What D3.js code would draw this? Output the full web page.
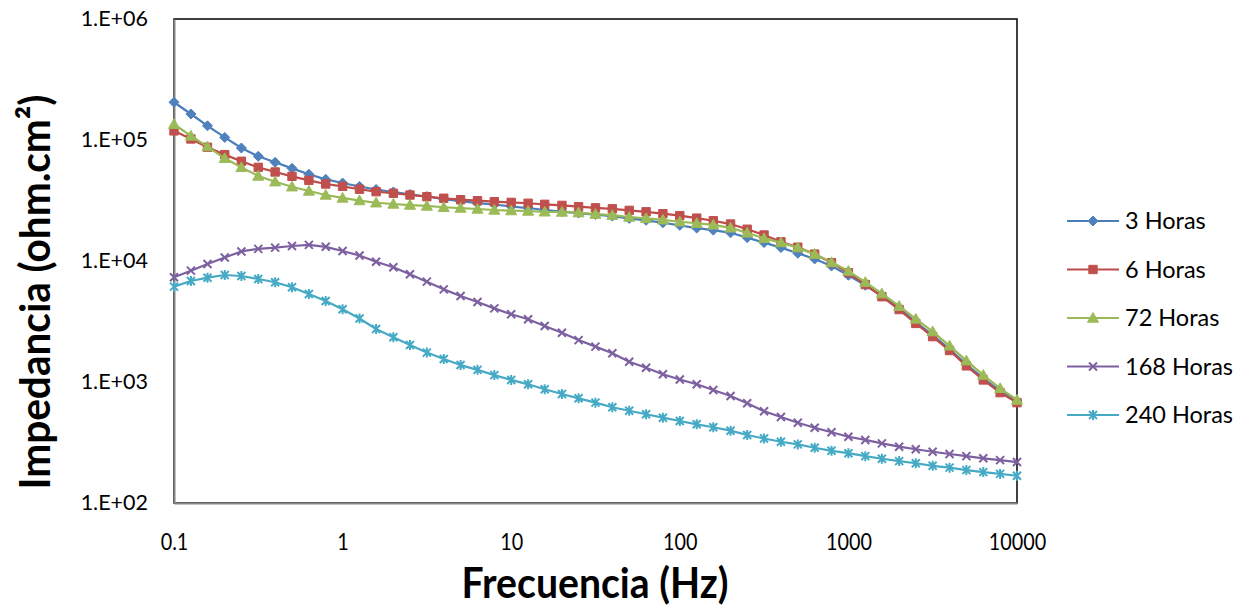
<!DOCTYPE html>
<html><head><meta charset="utf-8">
<script src="https://cdn.jsdelivr.net/npm/d3@7"></script>
<style>
body{margin:0;background:#fff}
text{font-family:Lato,"Open Sans",sans-serif;fill:#000}
</style></head><body>
<svg id="c" width="1243" height="610"></svg>
<script>
// ---- data ----
const frequencies = [0.1,0.126,0.158,0.2,0.251,0.316,0.398,0.501,0.631,0.794,
  1,1.26,1.58,2,2.51,3.16,3.98,5.01,6.31,7.94,
  10,12.6,15.8,20,25.1,31.6,39.8,50.1,63.1,79.4,
  100,126,158,200,251,316,398,501,631,794,
  1000,1260,1580,2000,2510,3160,3980,5010,6310,7940,10000];
const seriesNames = ["3 Horas","6 Horas","72 Horas","168 Horas","240 Horas"];
const horas3 = [205000,164000,131000,105000,85900,73300,65400,58300,52100,47300,
  44100,41300,39000,37200,35500,34100,32500,31300,30100,29300,
  28200,27400,26400,25600,24900,24200,23500,22500,21700,20700,
  19700,18700,18000,17100,15600,14200,12900,11600,10400,9100,
  7620,6300,5140,4090,3130,2440,1870,1400,1070,843,697];
const horas6 = [119000,102000,87100,75700,66700,59400,54400,50100,46400,43300,
  41400,39200,37400,36300,35100,34000,33000,32100,31500,30900,
  30500,30000,29400,28800,28100,27500,27000,26200,25500,24600,
  23700,22600,21500,20200,18300,16400,14400,13000,11400,9680,
  8000,6390,5070,3970,3050,2370,1820,1360,1040,817,675];
const horas72 = [135000,108000,88100,70600,59400,50400,45200,41100,37900,35100,
  33200,31600,30300,29600,29000,28500,27800,27400,26900,26400,
  26100,25900,25500,25400,25100,24400,23900,23100,22500,21900,
  21100,20500,19900,18800,17100,15400,14200,12900,11400,9750,
  8260,6680,5370,4230,3320,2610,1990,1500,1140,887,710];
const horas168 = [7330,8320,9450,10700,12000,12600,12900,13300,13600,13100,
  12100,11100,9860,8870,7760,6750,5830,5140,4580,4060,
  3630,3300,2900,2550,2220,1960,1730,1470,1310,1160,
  1050,957,859,766,667,573,514,461,419,384,
  353,332,311,292,278,265,254,244,234,226,218];
const horas240 = [6140,6840,7280,7660,7520,7100,6670,6070,5330,4670,
  3990,3350,2740,2340,2020,1750,1550,1380,1260,1140,
  1040,957,871,796,733,675,618,579,541,507,
  476,447,423,396,365,341,321,305,286,270,
  258,244,232,222,213,203,196,187,180,174,168];
const yTicks = [100,1000,10000,100000,1000000];
const yTickLabels = ["1.E+02","1.E+03","1.E+04","1.E+05","1.E+06"];
const xTicks = [0.1,1,10,100,1000,10000];
const xTickLabels = ["0.1","1","10","100","1000","10000"];

// ---- styles ----
const lineColors = ["#4A7EBB","#BE4B48","#98B954","#7D60A0","#46AAC5"];
const fillColors = ["#4F81BD","#C0504D","#9BBB59","#8064A2","#4BACC6"];
const allSeries = [horas3,horas6,horas72,horas168,horas240];

const markerTypes = [
  {draw(c){c.moveTo(0,-5);c.lineTo(5,0);c.lineTo(0,5);c.lineTo(-5,0);c.closePath();}},
  {draw(c){c.rect(-4.2,-4.2,8.4,8.4);}},
  {draw(c){c.moveTo(0,-5.5);c.lineTo(5.5,4.2);c.lineTo(-5.5,4.2);c.closePath();}},
  {draw(c){c.moveTo(-4,-4);c.lineTo(4,4);c.moveTo(-4,4);c.lineTo(4,-4);}},
  {draw(c){c.moveTo(-4,-4);c.lineTo(4,4);c.moveTo(-4,4);c.lineTo(4,-4);c.moveTo(0,-5);c.lineTo(0,5);}}
];
const strokeMarker = [false,false,false,true,true];

const svg = d3.select("#c");
const L=174,T=19,R=1017,B=503;
const x = d3.scaleLog().domain([0.1,10000]).range([L,R]);
const y = d3.scaleLog().domain([100,1000000]).range([B,T]);

// plot area border
svg.append("rect").attr("x",L).attr("y",T).attr("width",R-L).attr("height",B-T)
  .attr("fill","none").attr("stroke","#000").attr("stroke-width",1.5);

// axes
const yAxis = d3.axisLeft(y).tickValues(yTicks).tickSize(0).tickPadding(26)
  .tickFormat((d,i)=>yTickLabels[i]);
const gy = svg.append("g").attr("transform",`translate(${L},0)`).call(yAxis);
gy.select(".domain").attr("stroke","#868686").attr("stroke-width",2);
gy.selectAll("text").style("font-size","21.5px").style("font-family","Lato").attr("fill","#000");

const xAxis = d3.axisBottom(x).tickValues(xTicks).tickSize(0).tickPadding(31)
  .tickFormat((d,i)=>xTickLabels[i]);
const gx = svg.append("g").attr("transform",`translate(0,${B})`).call(xAxis);
gx.select(".domain").attr("stroke","#868686").attr("stroke-width",2);
gx.selectAll("text").style("font-size","23px").style("font-family","Lato").attr("fill","#000")
  .each(function(){
    const w = this.getComputedTextLength();
    d3.select(this).attr("textLength",w*0.86).attr("lengthAdjust","spacingAndGlyphs");
  });

// series
const line = d3.line().x((d,i)=>x(frequencies[i])).y(d=>y(d));
allSeries.forEach((vals,s)=>{
  const g = svg.append("g");
  g.append("path").datum(vals).attr("d",line).attr("fill","none")
    .attr("stroke",lineColors[s]).attr("stroke-width",2.2).attr("stroke-linejoin","round");
  const sym = d3.symbol().type(markerTypes[s]);
  g.selectAll("path.m").data(vals).join("path").attr("class","m")
    .attr("d",sym)
    .attr("transform",(d,i)=>`translate(${x(frequencies[i])},${y(d)})`)
    .attr("fill",strokeMarker[s]?"none":fillColors[s])
    .attr("stroke",strokeMarker[s]?lineColors[s]:fillColors[s])
    .attr("stroke-width",strokeMarker[s]?2:1);
});

// legend
const lg = svg.append("g");
seriesNames.forEach((name,s)=>{
  const ly = 221 + s*48.5;
  lg.append("line").attr("x1",1067).attr("x2",1119).attr("y1",ly).attr("y2",ly)
    .attr("stroke",lineColors[s]).attr("stroke-width",2.2);
  lg.append("path").attr("d",d3.symbol().type(markerTypes[s])())
    .attr("transform",`translate(1093,${ly})`)
    .attr("fill",strokeMarker[s]?"none":fillColors[s])
    .attr("stroke",strokeMarker[s]?lineColors[s]:fillColors[s])
    .attr("stroke-width",strokeMarker[s]?2:1);
  lg.append("text").attr("x",1125).attr("y",ly).attr("dy","0.36em")
    .style("font-size","23.5px").text(name);
});

// titles
svg.append("text").attr("transform","translate(50,292) rotate(-90)")
  .attr("text-anchor","middle").style("font-size","42px").style("font-weight","bold")
  .attr("textLength",395).attr("lengthAdjust","spacingAndGlyphs")
  .text("Impedancia (ohm.cm²)");
svg.append("text").attr("x",595).attr("y",598)
  .attr("text-anchor","middle").style("font-size","42px").style("font-weight","bold")
  .attr("textLength",267).attr("lengthAdjust","spacingAndGlyphs")
  .text("Frecuencia (Hz)");
</script></body></html>
